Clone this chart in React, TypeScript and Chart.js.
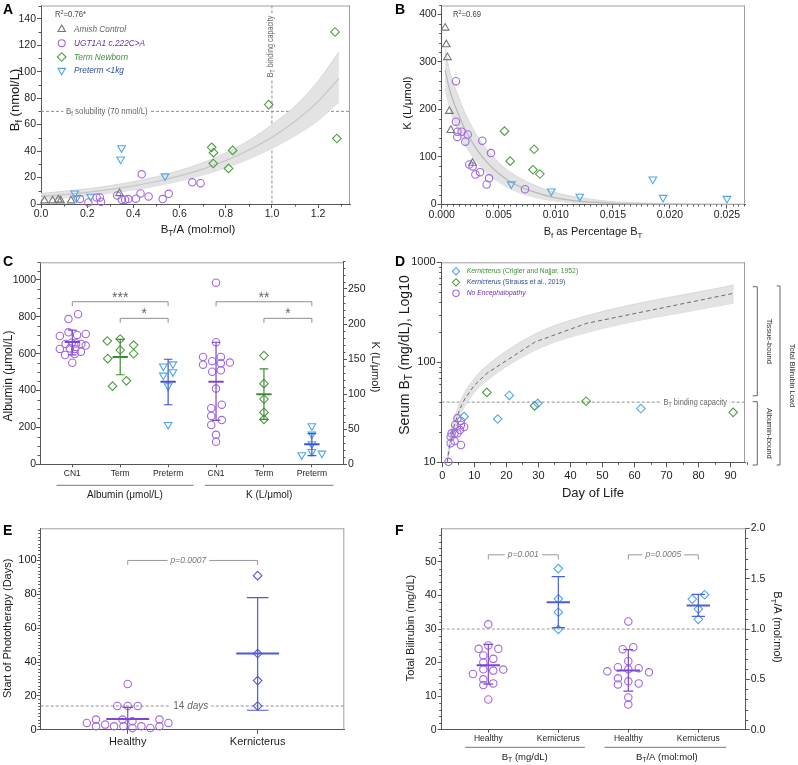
import React, { useEffect, useRef } from 'react';
import { Chart, registerables } from 'chart.js';

Chart.register(...registerables);

const FONT = '"Liberation Sans", Arial, Helvetica, sans-serif';
const AX = '#555555';
const FRAME = '#a0a0a0';
const DASH = '#8e8e8e';
const NOTE = '#666666';
const TICK = '#1e1e1e';
const PURPLE = '#a068df';
const PURPLE_BAR = '#7c46cf';
const GREEN = '#519d46';
const GREEN_BAR = '#3f8a36';
const LBLUE = '#4fa7e5';
const BLUE_BAR = '#3e52d4';
const INDIGO = '#5259d8';
const GRAY_M = '#777777';
const BAND = '#e3e3e3';
const BAND_EDGE = '#d3d3d3';

// ---------------- Panel A ----------------
const aXTicks = [0, 0.2, 0.4, 0.6, 0.8, 1.0, 1.2];
const aYTicks = [0, 20, 40, 60, 80, 100, 120, 140];
const aAmishX = [0.015, 0.05, 0.075, 0.085, 0.13, 0.34];
const aAmishY = [2.5, 2.5, 3.2, 2.5, 2.5, 8];
const aUgtX = [0.169, 0.205, 0.241, 0.255, 0.26, 0.33, 0.35, 0.364, 0.378, 0.411, 0.431, 0.436, 0.466, 0.527, 0.553, 0.655, 0.691];
const aUgtY = [3.7, 1.2, 5.0, 5.0, 1.7, 6.5, 3.2, 3.2, 3.7, 4.0, 8.0, 22.4, 5.7, 3.7, 7.7, 16.4, 15.7];
const aTermX = [0.739, 0.747, 0.746, 0.83, 0.812, 0.986, 1.273, 1.281];
const aTermY = [42.8, 38.8, 30.6, 40.5, 26.9, 75.1, 130, 49.5];
const aPreX = [0.349, 0.345, 0.537, 0.146, 0.154, 0.215];
const aPreY = [42.3, 33.8, 21.1, 8.2, 4.5, 5.7];
const aFitX = [0, 0.1, 0.2, 0.3, 0.4, 0.5, 0.6, 0.7, 0.8, 0.9, 1.0, 1.1, 1.2, 1.29];
const aFitMid = [5.7, 7.1, 8.8, 11.0, 13.7, 17.0, 21.2, 26.4, 32.8, 40.8, 50.5, 62.5, 77.5, 95];
const aFitLo = [3.4, 4.6, 6.2, 8.2, 10.6, 13.6, 17.3, 21.8, 27.3, 34, 42, 51.5, 63, 77];
const aFitHi = [8.0, 9.6, 11.5, 13.9, 16.9, 20.6, 25.3, 31.2, 38.6, 48, 60, 74, 93, 115];
const aLegend: [string, string, string, string][] = [
  ['Amish Control', 'up', GRAY_M, '#666666'],
  ['UGT1A1 c.222C>A', 'circle', PURPLE, '#6a2fb0'],
  ['Term Newborn', 'diamond', GREEN, '#3f8f36'],
  ['Preterm <1kg', 'down', LBLUE, '#2d4f98'],
];

// ---------------- Panel B ----------------
const bXTicks = [0, 0.005, 0.01, 0.015, 0.02, 0.025];
const bYTicks = [0, 100, 200, 300, 400];
const bAmishX = [0.0003, 0.0004, 0.0005, 0.00067, 0.0008, 0.0027];
const bAmishY = [371, 336, 309, 196, 156, 87];
const bUgtX = [0.00125, 0.00125, 0.00137, 0.00175, 0.00137, 0.00228, 0.00207, 0.00356, 0.00432, 0.00242, 0.00271, 0.00295, 0.00336, 0.00415, 0.00394, 0.0073];
const bUgtY = [259, 174, 153, 153, 142, 147, 132, 134, 108, 84, 80, 63, 68, 55, 42, 32];
const bTermX = [0.0055, 0.0081, 0.006, 0.008, 0.0086];
const bTermY = [154, 116, 91, 73, 64];
const bPreX = [0.0061, 0.0096, 0.0121, 0.0185, 0.0194, 0.025];
const bPreY = [43, 28, 17, 53, 14.5, 12.5];
const bFitX = [0.0003, 0.0006, 0.001, 0.0015, 0.002, 0.003, 0.004, 0.005, 0.006, 0.008, 0.01, 0.0125, 0.015, 0.018, 0.022, 0.0265];
const bFitMid = [283, 250, 218, 188, 160, 118, 88, 65, 48, 27, 14, 6, 2.5, 1, 0.3, 0.1];
const bFitLo = [245, 212, 180, 152, 127, 91, 65, 47, 33, 16, 7, 2, 0.5, 0, 0, 0];
const bFitHi = [327, 290, 256, 225, 195, 148, 114, 88, 68, 42, 25, 13, 6, 3, 1.2, 0.5];

// ---------------- Panel C ----------------
const cCats = ['CN1', 'Term', 'Preterm', 'CN1', 'Term', 'Preterm'];
const cYTicks = [0, 200, 400, 600, 800, 1000];
const cY2Ticks = [0, 50, 100, 150, 200, 250];
const cAlbCn1X = [-0.08, 0.12, -0.26, -0.08, 0.1, 0.28, -0.26, -0.14, -0.01, 0.08, 0.19, 0.28, -0.05, 0.06, 0.18, -0.15, 0.05, 0.0];
const cAlbCn1Y = [788, 814, 696, 716, 702, 707, 626, 653, 660, 656, 653, 644, 629, 626, 611, 593, 598, 551];
const cAlbTermX = [0.73, 1.0, 1.28, 0.74, 1.0, 1.28, 0.84, 1.13];
const cAlbTermY = [669, 680, 647, 573, 620, 600, 424, 453];
const cAlbPreX = [1.9, 2.1, 1.9, 2.1, 2.0, 2.0];
const cAlbPreY = [532, 544, 483, 501, 425, 215];
const cKCn1X = [3.0, 3.0, 2.73, 2.92, 3.1, 2.73, 3.1, 3.29, 2.92, 3.1, 3.0, 2.9, 3.12, 2.9, 3.12, 2.9, 3.0, 3.0];
const cKCn1Y = [259, 174, 153, 147, 153, 142, 144, 145, 132, 134, 108, 80, 85, 69, 63, 56, 42, 32];
const cKTermX = [4, 4, 4, 4, 4];
const cKTermY = [155, 115, 93, 74, 64];
const cKPreX = [5, 5, 5, 5, 4.79, 5.21];
const cKPreY = [54.6, 42.8, 29, 18, 13.3, 15.7];
const cMean = [664, 582, 448, 117.8, 100, 28.5];
const cUpper = [728, 678, 570, 174, 136, 43.6];
const cLower = [594, 486, 323, 62.7, 64, 12.3];

// ---------------- Panel D ----------------
const dXTicks = [0, 10, 20, 30, 40, 50, 60, 70, 80, 90];
const dYTicks = [10, 100, 1000];
const dYMinor = [20, 30, 40, 50, 60, 70, 80, 90, 200, 300, 400, 500, 600, 700, 800, 900];
const dCriglerX = [6.8, 17.3, 20.9, 29.8, 62];
const dCriglerY = [28.6, 27.1, 46.6, 38.9, 34.5];
const dStraussX = [13.9, 28.8, 44.9, 90.8];
const dStraussY = [50, 36.6, 40.8, 31.6];
const dNoEncX = [1.9, 2.6, 2.6, 2.9, 3.8, 3.8, 4.0, 4.7, 4.7, 5.5, 5.8, 5.8, 6.8, 5.8];
const dNoEncY = [10.1, 15.5, 18.0, 19.5, 16.3, 19.5, 23.6, 27.5, 19.5, 21, 23.6, 25.9, 22.6, 14.9];
const dFitX = [1.5, 2, 3, 4, 5, 6, 7, 10, 14, 29, 45, 91];
const dFitMid = [10, 13, 19, 25, 31, 37, 43, 59, 78, 160, 245, 490];
const dFitLo = [9.5, 11.8, 16.5, 21.5, 26.5, 31.5, 36.5, 50, 66, 132, 198, 392];
const dFitHi = [10.5, 14.5, 22, 29, 36, 43, 50, 69, 93, 192, 292, 592];

// ---------------- Panel E ----------------
const eCats = ['Healthy', 'Kernicterus'];
const eYTicks = [0, 20, 40, 60, 80, 100];
const eHealthyX = [0, -0.08, 0, 0.077, -0.04, 0.036, -0.315, -0.244, -0.244, -0.174, -0.105, -0.033, 0.036, 0.105, 0.174, 0.244, 0.244, 0.313];
const eHealthyY = [27, 14, 14, 14, 6, 5, 4, 6, 2, 3, 2, 2, 1, 2, 1, 2, 6, 4];
const eKernX = [1, 1, 1, 1];
const eKernY = [91, 45, 29, 14];
const eMean = [6.3, 45];
const eUpper = [13.2, 78];
const eLower = [0, 11.5];

// ---------------- Panel F ----------------
const fCats = ['Healthy', 'Kernicterus', 'Healthy', 'Kernicterus'];
const fYTicks = [0, 10, 20, 30, 40, 50];
const fY2Ticks = [0, 0.5, 1.0, 1.5, 2.0];
const fBtHX = [0, -0.138, 0, 0.143, -0.071, -0.071, 0.071, -0.071, 0.071, -0.219, 0.214, -0.071, -0.071, 0.071, 0];
const fBtHY = [31.4, 24.1, 25.1, 24.1, 22.1, 20.1, 21.1, 18.0, 17.6, 16.6, 17.9, 15.0, 13.3, 13.8, 9.0];
const fBtKX = [1, 1, 1, 1];
const fBtKY = [48, 39, 35, 29.9];
const fRatHX = [2, 1.919, 2.071, 2, 1.852, 2, 2.148, 1.7, 2.295, 1.852, 1.852, 2, 2.148, 2, 2];
const fRatHY = [1.075, 0.80, 0.82, 0.68, 0.62, 0.60, 0.61, 0.58, 0.57, 0.51, 0.45, 0.48, 0.46, 0.32, 0.25];
const fRatKX = [2.914, 3.09, 3, 3];
const fRatKY = [1.297, 1.34, 1.198, 1.096];
const fMean = [19.2, 38.0, 0.588, 1.234];
const fUpper = [25.4, 45.6, 0.796, 1.343];
const fLower = [13.6, 30.4, 0.383, 1.126];

// ---------------- helpers ----------------
type Box = { left: number; top: number; w: number; h: number };
type Seg = [string, string?];
interface RO { size: number; color?: string; align?: 'left' | 'center' | 'right'; rot?: number; sx?: number; italic?: boolean; bold?: boolean; bg?: boolean }

function rich(ctx: CanvasRenderingContext2D, segs: Seg[], x: number, y: number, o: RO) {
  const size = o.size;
  ctx.save();
  ctx.translate(x, y);
  if (o.rot) ctx.rotate(o.rot);
  ctx.scale(o.sx ?? 1, 1);
  const fontFor = (f: string) => {
    const small = f.includes('s') || f.includes('S');
    const it = (o.italic && !f.includes('n')) || f.includes('i');
    return `${it ? 'italic ' : ''}${o.bold ? 'bold ' : ''}${small ? size * 0.72 : size}px ${FONT}`;
  };
  const ws: number[] = [];
  let total = 0;
  for (const [t, f = ''] of segs) {
    ctx.font = fontFor(f);
    const w = ctx.measureText(t).width;
    ws.push(w);
    total += w;
  }
  let cx = o.align === 'left' ? 0 : o.align === 'right' ? -total : -total / 2;
  if (o.bg) {
    ctx.fillStyle = '#ffffff';
    ctx.fillRect(cx - 3, -size * 0.7, total + 6, size * 1.4);
  }
  ctx.fillStyle = o.color ?? '#1a1a1a';
  ctx.textBaseline = 'middle';
  ctx.textAlign = 'left';
  segs.forEach(([t, f = ''], i) => {
    ctx.font = fontFor(f);
    const dy = f.includes('s') ? size * 0.32 : f.includes('S') ? -size * 0.35 : 0;
    ctx.fillText(t, cx, dy);
    cx += ws[i];
  });
  ctx.restore();
}

function seg(ctx: CanvasRenderingContext2D, x1: number, y1: number, x2: number, y2: number, color: string, w = 1, dash: number[] = []) {
  ctx.save();
  ctx.strokeStyle = color;
  ctx.lineWidth = w;
  ctx.setLineDash(dash);
  ctx.beginPath();
  ctx.moveTo(x1, y1);
  ctx.lineTo(x2, y2);
  ctx.stroke();
  ctx.restore();
}

function bracket(ctx: CanvasRenderingContext2D, x1: number, x2: number, y: number, drop: number, color = '#8e8e8e') {
  ctx.save();
  ctx.strokeStyle = color;
  ctx.lineWidth = 1;
  ctx.beginPath();
  ctx.moveTo(x1, y + drop);
  ctx.lineTo(x1, y);
  ctx.lineTo(x2, y);
  ctx.lineTo(x2, y + drop);
  ctx.stroke();
  ctx.restore();
}

function vbracket(ctx: CanvasRenderingContext2D, x: number, y1: number, y2: number, tick: number, color = '#666666') {
  ctx.save();
  ctx.strokeStyle = color;
  ctx.lineWidth = 1;
  ctx.beginPath();
  ctx.moveTo(x - tick, y1);
  ctx.lineTo(x, y1);
  ctx.lineTo(x, y2);
  ctx.lineTo(x - tick, y2);
  ctx.stroke();
  ctx.restore();
}

function frame(chart: any, right: boolean) {
  const { ctx, chartArea: a } = chart;
  seg(ctx, a.left, a.top + 0.5, a.right, a.top + 0.5, FRAME);
  if (right) seg(ctx, a.right - 0.5, a.top, a.right - 0.5, a.bottom, FRAME);
}

function steps(a: number, b: number, s: number, skip: number) {
  const out: number[] = [];
  const n = Math.round((b - a) / s);
  for (let i = 0; i <= n; i++) {
    const v = a + i * s;
    const r = v / skip;
    if (Math.abs(r - Math.round(r)) > 1e-6) out.push(v);
  }
  return out;
}

function minor(chart: any, id: string, values: number[], len = 2.5) {
  const s = chart.scales[id];
  const a = chart.chartArea;
  const ctx: CanvasRenderingContext2D = chart.ctx;
  ctx.save();
  ctx.strokeStyle = AX;
  ctx.lineWidth = 1;
  ctx.beginPath();
  for (const v of values) {
    const p = Math.round(s.getPixelForValue(v)) + 0.5;
    if (s.position === 'left') { ctx.moveTo(a.left, p); ctx.lineTo(a.left - len, p); }
    else if (s.position === 'right') { ctx.moveTo(a.right, p); ctx.lineTo(a.right + len, p); }
    else { ctx.moveTo(p, a.bottom); ctx.lineTo(p, a.bottom + len); }
  }
  ctx.stroke();
  ctx.restore();
}

function drawMarker(ctx: CanvasRenderingContext2D, kind: string, x: number, y: number, r: number, color: string) {
  ctx.save();
  ctx.strokeStyle = color;
  ctx.lineWidth = 1.1;
  ctx.beginPath();
  if (kind === 'circle') ctx.arc(x, y, r * 0.9, 0, Math.PI * 2);
  else if (kind === 'diamond') { ctx.moveTo(x, y - r); ctx.lineTo(x + r, y); ctx.lineTo(x, y + r); ctx.lineTo(x - r, y); ctx.closePath(); }
  else {
    const s = kind === 'up' ? 1 : -1;
    const c = Math.cos(Math.PI / 6) * r;
    ctx.moveTo(x, y - s * r); ctx.lineTo(x + c, y + s * r / 2); ctx.lineTo(x - c, y + s * r / 2); ctx.closePath();
  }
  ctx.stroke();
  ctx.restore();
}

const P = (xs: number[], ys: number[]) => xs.map((x, i) => ({ x, y: ys[i] }));

function marks(xs: number[], ys: number[], kind: string, color: string, yAxisID = 'y', r?: number) {
  const style = kind === 'circle' ? 'circle' : kind === 'diamond' ? 'rectRot' : 'triangle';
  const rad = r ?? (kind === 'circle' ? 3.7 : kind === 'diamond' ? 4.3 : 4.4);
  return {
    type: 'scatter', data: P(xs, ys), yAxisID, pointStyle: style, pointRotation: kind === 'down' ? 180 : 0,
    pointRadius: rad, pointBorderColor: color, pointBackgroundColor: 'rgba(255,255,255,0)', pointBorderWidth: 1.1,
    showLine: false, clip: 12, order: 1,
  };
}

function band(xs: number[], lo: number[], hi: number[], tension: number, yAxisID = 'y') {
  return [
    { type: 'line', data: P(xs, hi), yAxisID, borderColor: BAND_EDGE, borderWidth: 0.8, backgroundColor: BAND, fill: '+1', pointRadius: 0, tension, cubicInterpolationMode: 'monotone', order: 10 },
    { type: 'line', data: P(xs, lo), yAxisID, borderColor: BAND_EDGE, borderWidth: 0.8, backgroundColor: BAND, fill: false, pointRadius: 0, tension, cubicInterpolationMode: 'monotone', order: 10 },
  ];
}

function errBars(c: number, mean: number, lo: number, hi: number, color: string, hm: number, hc: number, yAxisID = 'y') {
  return [
    { type: 'line', data: [{ x: c - hm, y: mean }, { x: c + hm, y: mean }], yAxisID, borderColor: color, borderWidth: 2, pointRadius: 0, fill: false, order: 0 },
    {
      type: 'line', yAxisID, borderColor: color, borderWidth: 1.2, pointRadius: 0, fill: false, spanGaps: false, order: 0,
      data: [{ x: c, y: lo }, { x: c, y: hi }, { x: c, y: null }, { x: c - hc, y: hi }, { x: c + hc, y: hi }, { x: c, y: null }, { x: c - hc, y: lo }, { x: c + hc, y: lo }],
    },
  ];
}

function axis(o: { pos: string; type?: string; min: number; max: number; ticks: number[]; fmt: (v: number) => string; size: number; fit: number; tl?: number; pad?: number }) {
  return {
    type: o.type || 'linear', position: o.pos, min: o.min, max: o.max, bounds: 'data',
    afterBuildTicks: (s: any) => { s.ticks = o.ticks.map((v) => ({ value: v })); },
    afterFit: (s: any) => {
      if (o.pos === 'bottom') s.height = o.fit; else s.width = o.fit;
      s.paddingTop = 0; s.paddingBottom = 0; s.paddingLeft = 0; s.paddingRight = 0;
    },
    ticks: { callback: (v: any) => o.fmt(Number(v)), font: { size: o.size, family: FONT }, color: TICK, padding: o.pad ?? 2, autoSkip: false, maxRotation: 0, minRotation: 0 },
    grid: { display: true, drawOnChartArea: false, drawTicks: true, tickLength: o.tl ?? 4, color: AX, lineWidth: 1 },
    border: { display: true, color: AX, width: 1 },
    title: { display: false },
  };
}

function baseOptions(top: number, right: number, scales: any) {
  return {
    responsive: false, animation: false, events: [],
    layout: { padding: { top, right, left: 0, bottom: 0 } },
    plugins: { legend: { display: false }, tooltip: { enabled: false }, title: { display: false } },
    scales,
  };
}

// ---------------- boxes ----------------
const boxA: Box = { left: 0, top: 0, w: 395, h: 242 };
const boxB: Box = { left: 395, top: 0, w: 403, h: 242 };
const boxC: Box = { left: 0, top: 242, w: 395, h: 258 };
const boxD: Box = { left: 395, top: 242, w: 403, h: 258 };
const boxE: Box = { left: 0, top: 500, w: 395, h: 265 };
const boxF: Box = { left: 395, top: 500, w: 403, h: 265 };

function letter(ctx: CanvasRenderingContext2D, t: string, x: number, y: number) {
  rich(ctx, [[t]], x, y, { size: 14, bold: true, align: 'left', color: '#000' });
}

// ---------------- configs ----------------
function cfgA() {
  const B = boxA;
  return {
    type: 'scatter',
    data: {
      datasets: [
        ...band(aFitX, aFitLo, aFitHi, 0.3),
        { type: 'line', data: P(aFitX, aFitMid), borderColor: '#c6c6c6', borderWidth: 1.2, pointRadius: 0, tension: 0.3, fill: false, order: 9 },
        marks(aAmishX, aAmishY, 'up', GRAY_M),
        marks(aUgtX, aUgtY, 'circle', PURPLE),
        marks(aTermX, aTermY, 'diamond', GREEN),
        marks(aPreX, aPreY, 'down', LBLUE),
      ],
    },
    options: baseOptions(3, 45, {
      x: axis({ pos: 'bottom', min: 0, max: 1.338, ticks: aXTicks, fmt: (v) => v.toFixed(1), size: 10.5, fit: 38, tl: 4, pad: 0 }),
      y: axis({ pos: 'left', min: 0, max: 150, ticks: aYTicks, fmt: (v) => String(v), size: 10.5, fit: 41, tl: 4, pad: 1 }),
    }),
    plugins: [{
      id: 'decA',
      beforeDatasetsDraw(chart: any) {
        const { ctx, chartArea: a, scales } = chart;
        const y70 = scales.y.getPixelForValue(70);
        const x1 = scales.x.getPixelForValue(1.0);
        seg(ctx, a.left, y70, a.right, y70, DASH, 1, [3, 2]);
        seg(ctx, x1, a.top, x1, a.bottom, DASH, 1, [3, 2]);
        rich(ctx, [['B'], ['f', 's'], [' solubility (70 nmol/L)']], a.left + 25, y70, { size: 9, sx: 0.88, color: NOTE, align: 'left', bg: true });
        rich(ctx, [['B'], ['T', 's'], [' binding capacity']], x1 - 1.5, a.top + 41, { size: 9, sx: 0.8, color: NOTE, rot: -Math.PI / 2, bg: true });
      },
      afterDraw(chart: any) {
        const ctx = chart.ctx;
        frame(chart, true);
        minor(chart, 'y', steps(0, 150, 10, 20));
        minor(chart, 'x', steps(0, 1.3, 0.1, 0.2));
        rich(ctx, [['R'], ['2', 'S'], ['=0.76*']], 55 - B.left, 15 - B.top, { size: 8.5, sx: 0.9, color: '#444', align: 'left' });
        const rows = [29.3, 43.2, 57, 70.5];
        aLegend.forEach(([t, kind, mc, tc], i) => {
          drawMarker(ctx, kind, 61.7, rows[i], kind === 'circle' ? 3.8 : 4.3, mc);
          rich(ctx, [[t]], 74, rows[i], { size: 9, sx: 0.92, italic: true, color: tc, align: 'left' });
        });
        rich(ctx, [['B'], ['f', 's'], [' (nmol/L)']], 15, 100, { size: 13, rot: -Math.PI / 2 });
        rich(ctx, [['B'], ['T', 's'], ['/A (mol:mol)']], 198, 230, { size: 11.5 });
        letter(ctx, 'A', 3, 10);
      },
    }],
  };
}

function cfgB() {
  const B = boxB;
  return {
    type: 'scatter',
    data: {
      datasets: [
        ...band(bFitX, bFitLo, bFitHi, 0.4),
        { type: 'line', data: P(bFitX, bFitMid), borderColor: '#b8b8b8', borderWidth: 1.2, pointRadius: 0, tension: 0.4, cubicInterpolationMode: 'monotone', fill: false, order: 9 },
        marks(bAmishX, bAmishY, 'up', GRAY_M),
        marks(bUgtX, bUgtY, 'circle', PURPLE),
        marks(bTermX, bTermY, 'diamond', GREEN),
        marks(bPreX, bPreY, 'down', LBLUE),
      ],
    },
    options: baseOptions(3, 53, {
      x: axis({ pos: 'bottom', min: 0, max: 0.02658, ticks: bXTicks, fmt: (v) => v.toFixed(3), size: 10.5, fit: 37.5, tl: 4, pad: 0 }),
      y: axis({ pos: 'left', min: 0, max: 418, ticks: bYTicks, fmt: (v) => String(v), size: 10.5, fit: 46.7, tl: 4, pad: 1 }),
    }),
    plugins: [{
      id: 'decB',
      afterDraw(chart: any) {
        const ctx = chart.ctx;
        frame(chart, true);
        minor(chart, 'y', steps(0, 418, 20, 100));
        minor(chart, 'x', steps(0, 0.0265, 0.0005, 0.005), 2);
        rich(ctx, [['R'], ['2', 'S'], ['=0.69']], 453 - B.left, 15 - B.top, { size: 8.5, sx: 0.9, color: '#444', align: 'left' });
        rich(ctx, [['K (L/μmol)']], 408 - B.left, 103 - B.top, { size: 11.5, rot: -Math.PI / 2 });
        rich(ctx, [['B'], ['f', 's'], [' as Percentage B'], ['T', 's']], 593 - B.left, 232 - B.top, { size: 11 });
        letter(ctx, 'B', 0, 10);
      },
    }],
  };
}

function cfgC() {
  const B = boxC;
  const ds: any[] = [
    marks(cAlbCn1X, cAlbCn1Y, 'circle', PURPLE),
    marks(cAlbTermX, cAlbTermY, 'diamond', GREEN),
    marks(cAlbPreX, cAlbPreY, 'down', LBLUE),
    marks(cKCn1X, cKCn1Y, 'circle', PURPLE, 'y2'),
    marks(cKTermX, cKTermY, 'diamond', GREEN, 'y2'),
    marks(cKPreX, cKPreY, 'down', LBLUE, 'y2'),
  ];
  const barColors = [PURPLE_BAR, GREEN_BAR, BLUE_BAR, PURPLE_BAR, GREEN_BAR, BLUE_BAR];
  cMean.forEach((m, i) => ds.push(...errBars(i, m, cLower[i], cUpper[i], barColors[i], 0.16, 0.09, i < 3 ? 'y' : 'y2')));
  return {
    type: 'scatter',
    data: { datasets: ds },
    options: baseOptions(20.3, 0, {
      x: axis({ pos: 'bottom', min: -0.674, max: 5.65, ticks: [0, 1, 2, 3, 4, 5], fmt: (v) => cCats[Math.round(v)] ?? '', size: 8.5, fit: 35.7, tl: 3, pad: 1 }),
      y: axis({ pos: 'left', min: 0, max: 1096, ticks: cYTicks, fmt: (v) => String(v), size: 10.5, fit: 40, tl: 4, pad: 0 }),
      y2: axis({ pos: 'right', min: 0, max: 288, ticks: cY2Ticks, fmt: (v) => String(v), size: 10.5, fit: 52, tl: 4, pad: 1 }),
    }),
    plugins: [{
      id: 'decC',
      beforeDatasetsDraw(chart: any) {
        const { ctx, scales } = chart;
        const gx = (v: number) => scales.x.getPixelForValue(v);
        const yA = scales.y.getPixelForValue(882);
        const yB = scales.y.getPixelForValue(792);
        bracket(ctx, gx(0), gx(2), yA, 4.5);
        bracket(ctx, gx(1), gx(2), yB, 4.5);
        bracket(ctx, gx(3), gx(5), yA, 4.5);
        bracket(ctx, gx(4), gx(5), yB, 4.5);
        rich(ctx, [['***']], gx(1), yA - 4, { size: 14, color: '#666' });
        rich(ctx, [['*']], gx(1.5), yB - 4, { size: 14, color: '#666' });
        rich(ctx, [['**']], gx(4), yA - 4, { size: 14, color: '#666' });
        rich(ctx, [['*']], gx(4.5), yB - 4, { size: 14, color: '#666' });
      },
      afterDraw(chart: any) {
        const { ctx, chartArea: a, scales } = chart;
        const gx = (v: number) => scales.x.getPixelForValue(v);
        frame(chart, false);
        minor(chart, 'y', steps(0, 1096, 50, 200));
        minor(chart, 'y2', steps(0, 288, 10, 50));
        seg(ctx, gx(-0.33), a.bottom + 21, gx(2.53), a.bottom + 21, '#777');
        seg(ctx, gx(2.77), a.bottom + 21, gx(5.45), a.bottom + 21, '#777');
        rich(ctx, [['Albumin (μmol/L)']], gx(1.1), a.bottom + 31.4, { size: 10 });
        rich(ctx, [['K (L/μmol)']], gx(4.11), a.bottom + 31.4, { size: 10 });
        rich(ctx, [['Albumin (μmol/L)']], 9 - B.left, 376 - B.top, { size: 12, rot: -Math.PI / 2 });
        rich(ctx, [['K (L/μmol)']], 375 - B.left, 367 - B.top, { size: 11, rot: Math.PI / 2 });
        letter(ctx, 'C', 3, 262.5 - B.top);
      },
    }],
  };
}

function cfgD() {
  const B = boxD;
  return {
    type: 'scatter',
    data: {
      datasets: [
        ...band(dFitX, dFitLo, dFitHi, 0),
        { type: 'line', data: P(dFitX, dFitMid), borderColor: '#6a6a6a', borderWidth: 1, borderDash: [4, 3], pointRadius: 0, tension: 0, fill: false, order: 9 },
        marks(dCriglerX, dCriglerY, 'diamond', LBLUE),
        marks(dStraussX, dStraussY, 'diamond', GREEN),
        marks(dNoEncX, dNoEncY, 'circle', PURPLE),
      ],
    },
    options: baseOptions(20.3, 53, {
      x: axis({ pos: 'bottom', min: -0.2, max: 94.5, ticks: dXTicks, fmt: (v) => String(v), size: 11, fit: 37.7, tl: 5, pad: 2 }),
      y: axis({ pos: 'left', type: 'logarithmic', min: 10, max: 1000, ticks: dYTicks, fmt: (v) => String(v), size: 11, fit: 46.7, tl: 5, pad: 1 }),
    }),
    plugins: [{
      id: 'decD',
      beforeDatasetsDraw(chart: any) {
        const { ctx, chartArea: a, scales } = chart;
        const y40 = scales.y.getPixelForValue(40);
        seg(ctx, a.left, y40, a.right, y40, DASH, 1, [3, 2]);
        rich(ctx, [['B'], ['T', 's'], [' binding capacity']], a.right - 18, y40, { size: 9.5, sx: 0.78, color: NOTE, align: 'right', bg: true });
      },
      afterDraw(chart: any) {
        const { ctx, chartArea: a, scales } = chart;
        const gy = (v: number) => scales.y.getPixelForValue(v);
        frame(chart, true);
        minor(chart, 'y', dYMinor);
        minor(chart, 'x', steps(0, 94, 5, 10));
        const lx = 456 - B.left;
        const tx = 466.7 - B.left;
        const rows = [271.3 - B.top, 282.3 - B.top, 293.3 - B.top];
        drawMarker(ctx, 'diamond', lx, rows[0], 3.6, LBLUE);
        drawMarker(ctx, 'diamond', lx, rows[1], 3.6, GREEN);
        drawMarker(ctx, 'circle', lx, rows[2], 3.6, PURPLE);
        rich(ctx, [['Kernicterus', 'i'], [' (Crigler and Najjar, 1952)']], tx, rows[0], { size: 7.5, sx: 0.9, color: '#3f8f36', align: 'left' });
        rich(ctx, [['Kernicterus', 'i'], [' (Strauss et al., 2019)']], tx, rows[1], { size: 7.5, sx: 0.9, color: '#2d4f98', align: 'left' });
        rich(ctx, [['No Encephalopathy', 'i']], tx, rows[2], { size: 7.5, sx: 0.9, color: '#6a2fb0', align: 'left' });
        const R = a.right;
        vbracket(ctx, R + 12.3, gy(570), gy(46.3), 4.6);
        vbracket(ctx, R + 12.3, gy(40.4), gy(9.4), 4.6);
        vbracket(ctx, R + 35, gy(580), gy(9.4), 3.3);
        rich(ctx, [['Tissue-bound']], R + 24, (gy(570) + gy(46.3)) / 2, { size: 7.5, color: '#333', rot: Math.PI / 2 });
        rich(ctx, [['Albumin-bound']], R + 24, (gy(40.4) + gy(9.4)) / 2, { size: 7.5, color: '#333', rot: Math.PI / 2 });
        rich(ctx, [['Total Bilirubin Load']], R + 46.7, (gy(580) + gy(9.4)) / 2, { size: 7.5, color: '#333', rot: Math.PI / 2 });
        rich(ctx, [['Serum B'], ['T', 's'], [' (mg/dL), Log10']], 405 - B.left, 355 - B.top, { size: 14, rot: -Math.PI / 2 });
        rich(ctx, [['Day of Life']], 593 - B.left, 493.3 - B.top, { size: 13 });
        letter(ctx, 'D', 0, 262.5 - B.top);
      },
    }],
  };
}

function cfgE() {
  const B = boxE;
  const ds: any[] = [
    marks(eHealthyX, eHealthyY, 'circle', PURPLE),
    marks(eKernX, eKernY, 'diamond', INDIGO),
    ...errBars(0, eMean[0], eLower[0], eUpper[0], PURPLE_BAR, 0.165, 0.04),
    ...errBars(1, eMean[1], eLower[1], eUpper[1], INDIGO, 0.165, 0.083),
  ];
  return {
    type: 'scatter',
    data: { datasets: ds },
    options: baseOptions(28.3, 50.7, {
      x: axis({ pos: 'bottom', min: -0.67, max: 1.667, ticks: [0, 1], fmt: (v) => eCats[Math.round(v)] ?? '', size: 11, fit: 35.3, tl: 4, pad: 1.5 }),
      y: axis({ pos: 'left', min: 0, max: 119, ticks: eYTicks, fmt: (v) => String(v), size: 11, fit: 40.7, tl: 4, pad: 0 }),
    }),
    plugins: [{
      id: 'decE',
      beforeDatasetsDraw(chart: any) {
        const { ctx, chartArea: a, scales } = chart;
        const gx = (v: number) => scales.x.getPixelForValue(v);
        const y14 = scales.y.getPixelForValue(14);
        seg(ctx, a.left, y14, a.right, y14, DASH, 1, [3, 2]);
        rich(ctx, [['14 '], ['days', 'i']], gx(0.485), y14, { size: 10, color: '#666', bg: true });
        const yb = scales.y.getPixelForValue(100);
        bracket(ctx, gx(0), gx(1), yb, 4.6, '#999');
        rich(ctx, [['p=0.0007', 'i']], gx(0.467), yb, { size: 8.5, color: '#777', bg: true });
      },
      afterDraw(chart: any) {
        const ctx = chart.ctx;
        frame(chart, true);
        minor(chart, 'y', steps(0, 118, 2, 20));
        rich(ctx, [['Start of Phototherapy (Days)']], 8, 628.3 - B.top, { size: 11, rot: -Math.PI / 2 });
        letter(ctx, 'E', 3, 531 - B.top);
      },
    }],
  };
}

function cfgF() {
  const B = boxF;
  const ds: any[] = [
    marks(fBtHX, fBtHY, 'circle', PURPLE),
    marks(fBtKX, fBtKY, 'diamond', LBLUE),
    marks(fRatHX, fRatHY, 'circle', PURPLE, 'y2'),
    marks(fRatKX, fRatKY, 'diamond', LBLUE, 'y2'),
    ...errBars(0, fMean[0], fLower[0], fUpper[0], PURPLE_BAR, 0.167, 0.07),
    ...errBars(1, fMean[1], fLower[1], fUpper[1], '#4a5fd8', 0.167, 0.095),
    ...errBars(2, fMean[2], fLower[2], fUpper[2], PURPLE_BAR, 0.167, 0.07, 'y2'),
    ...errBars(3, fMean[3], fLower[3], fUpper[3], '#4a5fd8', 0.167, 0.095, 'y2'),
  ];
  return {
    type: 'scatter',
    data: { datasets: ds },
    options: baseOptions(28.3, 0, {
      x: axis({ pos: 'bottom', min: -0.666, max: 3.677, ticks: [0, 1, 2, 3], fmt: (v) => fCats[Math.round(v)] ?? '', size: 8.5, fit: 35.3, tl: 3, pad: 1 }),
      y: axis({ pos: 'left', min: 0, max: 60, ticks: fYTicks, fmt: (v) => String(v), size: 10.5, fit: 46.7, tl: 4, pad: 1 }),
      y2: axis({ pos: 'right', min: 0, max: 2, ticks: fY2Ticks, fmt: (v) => v.toFixed(1), size: 10.5, fit: 52.3, tl: 4, pad: 1 }),
    }),
    plugins: [{
      id: 'decF',
      beforeDatasetsDraw(chart: any) {
        const { ctx, chartArea: a, scales } = chart;
        const gx = (v: number) => scales.x.getPixelForValue(v);
        const y30 = scales.y.getPixelForValue(30);
        seg(ctx, a.left, y30, a.right, y30, '#999', 1.2, [3, 2]);
        const yb = scales.y.getPixelForValue(52.1);
        bracket(ctx, gx(0), gx(1), yb, 4.7, '#999');
        bracket(ctx, gx(2), gx(3), yb, 4.7, '#999');
        rich(ctx, [['p=0.001', 'i']], gx(0.5), yb, { size: 8.5, color: '#777', bg: true });
        rich(ctx, [['p=0.0005', 'i']], gx(2.5), yb, { size: 8.5, color: '#777', bg: true });
      },
      afterDraw(chart: any) {
        const { ctx, chartArea: a, scales } = chart;
        const gx = (v: number) => scales.x.getPixelForValue(v);
        frame(chart, false);
        minor(chart, 'y', steps(0, 60, 2, 10));
        minor(chart, 'y2', steps(0, 2, 0.1, 0.5));
        seg(ctx, gx(-0.33), a.bottom + 17.6, gx(1.38), a.bottom + 17.6, '#777');
        seg(ctx, gx(1.66), a.bottom + 17.6, gx(3.4), a.bottom + 17.6, '#777');
        rich(ctx, [['B'], ['T', 's'], [' (mg/dL)']], gx(0.52), a.bottom + 27.6, { size: 9.5 });
        rich(ctx, [['B'], ['T', 's'], ['/A (mol:mol)']], gx(2.55), a.bottom + 27.6, { size: 9.5 });
        rich(ctx, [['Total Bilirubin (mg/dL)']], 411 - B.left, 628 - B.top, { size: 11, rot: -Math.PI / 2 });
        rich(ctx, [['B'], ['T', 's'], ['/A (mol:mol)']], 776.7 - B.left, 627 - B.top, { size: 11, rot: Math.PI / 2 });
        letter(ctx, 'F', 0, 531 - B.top);
      },
    }],
  };
}

function Panel({ box, make }: { box: Box; make: () => any }) {
  const ref = useRef<HTMLCanvasElement | null>(null);
  useEffect(() => {
    if (!ref.current) return;
    const chart = new Chart(ref.current, make());
    return () => chart.destroy();
  }, [make]);
  return (
    <canvas
      ref={ref}
      width={box.w}
      height={box.h}
      style={{ position: 'absolute', left: box.left, top: box.top, width: box.w, height: box.h }}
    />
  );
}

export default function App() {
  return (
    <div style={{ position: 'absolute', left: 0, top: 0, width: 798, height: 765, background: '#ffffff', overflow: 'hidden' }}>
      <Panel box={boxA} make={cfgA} />
      <Panel box={boxB} make={cfgB} />
      <Panel box={boxC} make={cfgC} />
      <Panel box={boxD} make={cfgD} />
      <Panel box={boxE} make={cfgE} />
      <Panel box={boxF} make={cfgF} />
    </div>
  );
}
